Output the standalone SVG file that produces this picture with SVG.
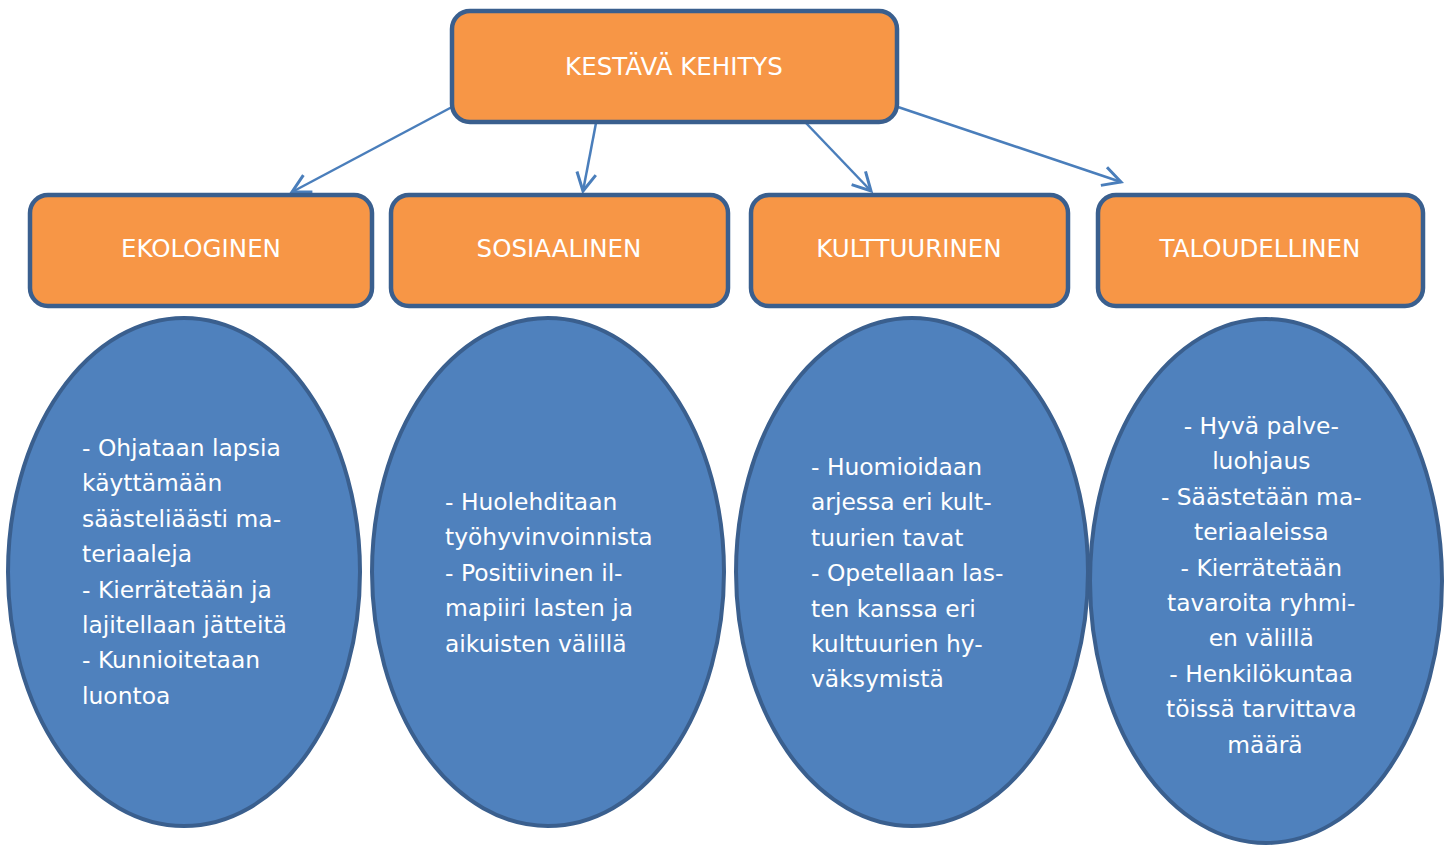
<svg xmlns="http://www.w3.org/2000/svg" width="1450" height="845" viewBox="0 0 1450 845">
<defs>
<style>
.box{fill:#F79646;stroke:#3A5F8E;stroke-width:4.5}
.ell{fill:#4F81BD;stroke:#3A5F8E;stroke-width:4}
.t{font-family:"DejaVu Sans",sans-serif;fill:#FFFFFF}
.h{font-size:24.5px;text-anchor:middle}
.b{font-size:23.4px}
.c{text-anchor:middle}
.con{stroke:#4A7EBB;stroke-width:2.5;fill:none;marker-end:url(#arr)}
</style>
<marker id="arr" markerUnits="userSpaceOnUse" markerWidth="24" markerHeight="24" refX="16" refY="10" orient="auto" viewBox="0 0 20 20">
<path d="M1,2 L16,10 L1,18" fill="none" stroke="#4A7EBB" stroke-width="2.5"/>
</marker>
</defs>
<g id="connectors">
<line class="con" x1="452" y1="107" x2="292" y2="192"/>
<line class="con" x1="596" y1="123" x2="583" y2="191"/>
<line class="con" x1="806" y1="123" x2="871" y2="191"/>
<line class="con" x1="898" y1="107" x2="1121" y2="182"/>
</g>
<g id="kestava">
<rect class="box" x="452" y="11" width="445" height="111" rx="18"/>
<text class="t h" x="674" y="75">KESTÄVÄ KEHITYS</text>
</g>
<g id="ekologinen">
<rect class="box" x="30" y="195" width="342" height="111" rx="18"/>
<text class="t h" x="201" y="257">EKOLOGINEN</text>
</g>
<g id="sosiaalinen">
<rect class="box" x="391" y="195" width="337" height="111" rx="18"/>
<text class="t h" x="559" y="257">SOSIAALINEN</text>
</g>
<g id="kulttuurinen">
<rect class="box" x="751" y="195" width="317" height="111" rx="18"/>
<text class="t h" x="909" y="257">KULTTUURINEN</text>
</g>
<g id="taloudellinen">
<rect class="box" x="1098" y="195" width="325" height="111" rx="18"/>
<text class="t h" x="1260" y="257">TALOUDELLINEN</text>
</g>
<g id="eko-detail">
<ellipse class="ell" cx="184" cy="572" rx="176" ry="254"/>
<text class="t b">
<tspan x="82" y="456">- Ohjataan lapsia</tspan>
<tspan x="82" dy="35.4">käyttämään</tspan>
<tspan x="82" dy="35.4">säästeliäästi ma-</tspan>
<tspan x="82" dy="35.4">teriaaleja</tspan>
<tspan x="82" dy="35.4">- Kierrätetään ja</tspan>
<tspan x="82" dy="35.4">lajitellaan jätteitä</tspan>
<tspan x="82" dy="35.4">- Kunnioitetaan</tspan>
<tspan x="82" dy="35.4">luontoa</tspan>
</text>
</g>
<g id="sos-detail">
<ellipse class="ell" cx="548" cy="572" rx="176" ry="254"/>
<text class="t b">
<tspan x="445" y="510">- Huolehditaan</tspan>
<tspan x="445" dy="35.4">työhyvinvoinnista</tspan>
<tspan x="445" dy="35.4">- Positiivinen il-</tspan>
<tspan x="445" dy="35.4">mapiiri lasten ja</tspan>
<tspan x="445" dy="35.4">aikuisten välillä</tspan>
</text>
</g>
<g id="kult-detail">
<ellipse class="ell" cx="912" cy="572" rx="176" ry="254"/>
<text class="t b">
<tspan x="811" y="475">- Huomioidaan</tspan>
<tspan x="811" dy="35.4">arjessa eri kult-</tspan>
<tspan x="811" dy="35.4">tuurien tavat</tspan>
<tspan x="811" dy="35.4">- Opetellaan las-</tspan>
<tspan x="811" dy="35.4">ten kanssa eri</tspan>
<tspan x="811" dy="35.4">kulttuurien hy-</tspan>
<tspan x="811" dy="35.4">väksymistä</tspan>
</text>
</g>
<g id="tal-detail">
<ellipse class="ell" cx="1266" cy="581" rx="176" ry="262"/>
<text class="t b c">
<tspan x="1265" y="434">- Hyvä palve-</tspan>
<tspan x="1265" dy="35.4">luohjaus</tspan>
<tspan x="1265" dy="35.4">- Säästetään ma-</tspan>
<tspan x="1265" dy="35.4">teriaaleissa</tspan>
<tspan x="1265" dy="35.4">- Kierrätetään</tspan>
<tspan x="1265" dy="35.4">tavaroita ryhmi-</tspan>
<tspan x="1265" dy="35.4">en välillä</tspan>
<tspan x="1265" dy="35.4">- Henkilökuntaa</tspan>
<tspan x="1265" dy="35.4">töissä tarvittava</tspan>
<tspan x="1265" dy="35.4">määrä</tspan>
</text>
</g>
</svg>
